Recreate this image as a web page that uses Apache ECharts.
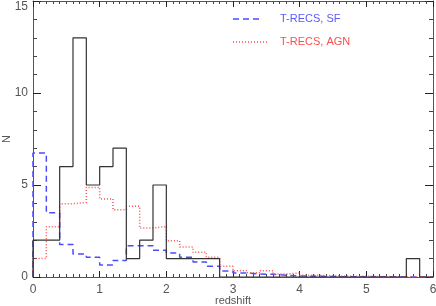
<!DOCTYPE html>
<html>
<head>
<meta charset="utf-8">
<script src="https://cdn.jsdelivr.net/npm/echarts@6/dist/echarts.min.js"></script>
<style>html,body{margin:0;padding:0;background:#fff}#c{width:436px;height:306px}</style>
</head>
<body>
<div id="c"></div>
<script>
// Bin edges (redshift), width 0.2
var binEdges = [0,0.2,0.4,0.6,0.8,1.0,1.2,1.4,1.6,1.8,2.0,2.2,2.4,2.6,2.8,3.0,3.2,3.4,3.6,3.8,4.0,4.2,4.4,4.6,4.8,5.0,5.2,5.4,5.6,5.8,6.0];
// Observed counts (black histogram)
var obsCounts = [2,2,6,13,5,6,7,1,2,5,1,1,1,1,0,0,0,0,0,0,0,0,0,0,0,0,0,0,1,0];
// T-RECS SF (blue dashed)
var sfCounts = [6.74,3.49,1.77,1.25,1.07,0.65,0.9,1.7,1.7,1.45,1.3,1.07,0.82,0.58,0.33,0.22,0.16,0.15,0.1,0.06,0.04,0.03,0.02,0.02,0.01,0.01,0.01,0,0,0];
// T-RECS AGN (red dotted)
var agnCounts = [1.0,2.73,3.98,4.05,4.87,4.24,3.66,3.84,2.66,2.75,1.97,1.63,1.34,1.07,0.58,0.34,0.23,0.34,0.16,0.22,0.1,0.08,0.06,0.05,0.04,0.03,0.02,0.02,0.01,0.01];
var xTicks = [0,1,2,3,4,5,6];
var yTicks = [0,5,10,15];

function steps(counts){
  var pts = [[binEdges[0],0]];
  for (var i=0;i<counts.length;i++) pts.push([binEdges[i],counts[i]]);
  pts.push([binEdges[binEdges.length-1],counts[counts.length-1]]);
  pts.push([binEdges[binEdges.length-1],0]);
  return pts;
}

var FONT = 'Liberation Sans';
var axisCol = '#555';
var chart = echarts.init(document.getElementById('c'), null, {renderer:'canvas'});
var xBase = {
  type:'value', min:xTicks[0], max:xTicks[xTicks.length-1], interval:1,
  axisLine:{show:true, onZero:false, lineStyle:{color:axisCol,width:1}},
  axisTick:{show:true, inside:true, length:6, lineStyle:{color:'#222'}},
  minorTick:{show:true, splitNumber:10, length:3, lineStyle:{color:'#444'}},
  splitLine:{show:false}, minorSplitLine:{show:false}
};
var yBase = {
  type:'value', min:yTicks[0], max:yTicks[yTicks.length-1], interval:5,
  axisLine:{show:true, onZero:false, lineStyle:{color:axisCol,width:1}},
  axisTick:{show:true, inside:true, length:8, lineStyle:{color:'#222'}},
  minorTick:{show:true, splitNumber:5, length:4, lineStyle:{color:'#444'}},
  splitLine:{show:false}, minorSplitLine:{show:false}
};
chart.setOption({
  animation:false,
  backgroundColor:'#fff',
  grid:{left:33, right:3, top:1, bottom:29, containLabel:false, outerBoundsMode:'none'},
  xAxis:[
    Object.assign({}, xBase, {position:'bottom',
      name:'redshift', nameLocation:'middle', nameGap:18, nameMoveOverlap:false,
      nameTextStyle:{color:'#555', fontFamily:FONT, fontSize:11},
      axisLabel:{show:true, color:'#555', fontFamily:FONT, fontSize:12, margin:7}}),
    Object.assign({}, xBase, {position:'top', axisLabel:{show:false}})
  ],
  yAxis:[
    Object.assign({}, yBase, {position:'left',
      name:'N', nameLocation:'middle', nameGap:21, nameMoveOverlap:false,
      nameTextStyle:{color:'#555', fontFamily:FONT, fontSize:11},
      axisLabel:{show:true, color:'#555', fontFamily:FONT, fontSize:12, margin:5, verticalAlignMaxLabel:'top'}}),
    Object.assign({}, yBase, {position:'right', axisLabel:{show:false}})
  ],
  graphic:[
    {type:'line', shape:{x1:233,y1:19,x2:262,y2:19}, style:{stroke:'#4c4cff', lineWidth:1.5, lineDash:[6,4]}},
    {type:'text', left:280, top:13, style:{text:'T-RECS, SF', fill:'#5a5aff', font:'11px "Liberation Sans"'}},
    {type:'line', shape:{x1:233,y1:42,x2:267,y2:42}, style:{stroke:'#ff4d4d', lineWidth:1.5, lineDash:[1,2]}},
    {type:'text', left:280, top:36, style:{text:'T-RECS, AGN', fill:'#ff4d4d', font:'11px "Liberation Sans"'}}
  ],
  series:[
    {type:'line', name:'T-RECS, SF', data:steps(sfCounts), step:'end', symbol:'none',
      lineStyle:{color:'#4c4cff', width:1.5, type:[6,4]}, z:3},
    {type:'line', name:'T-RECS, AGN', data:steps(agnCounts), step:'end', symbol:'none',
      lineStyle:{color:'#ff4d4d', width:1.5, type:[1,2]}, z:3},
    {type:'line', name:'obs', data:steps(obsCounts), step:'end', symbol:'none',
      lineStyle:{color:'#333', width:1.2}, z:4}
  ]
});
</script>
</body>
</html>
